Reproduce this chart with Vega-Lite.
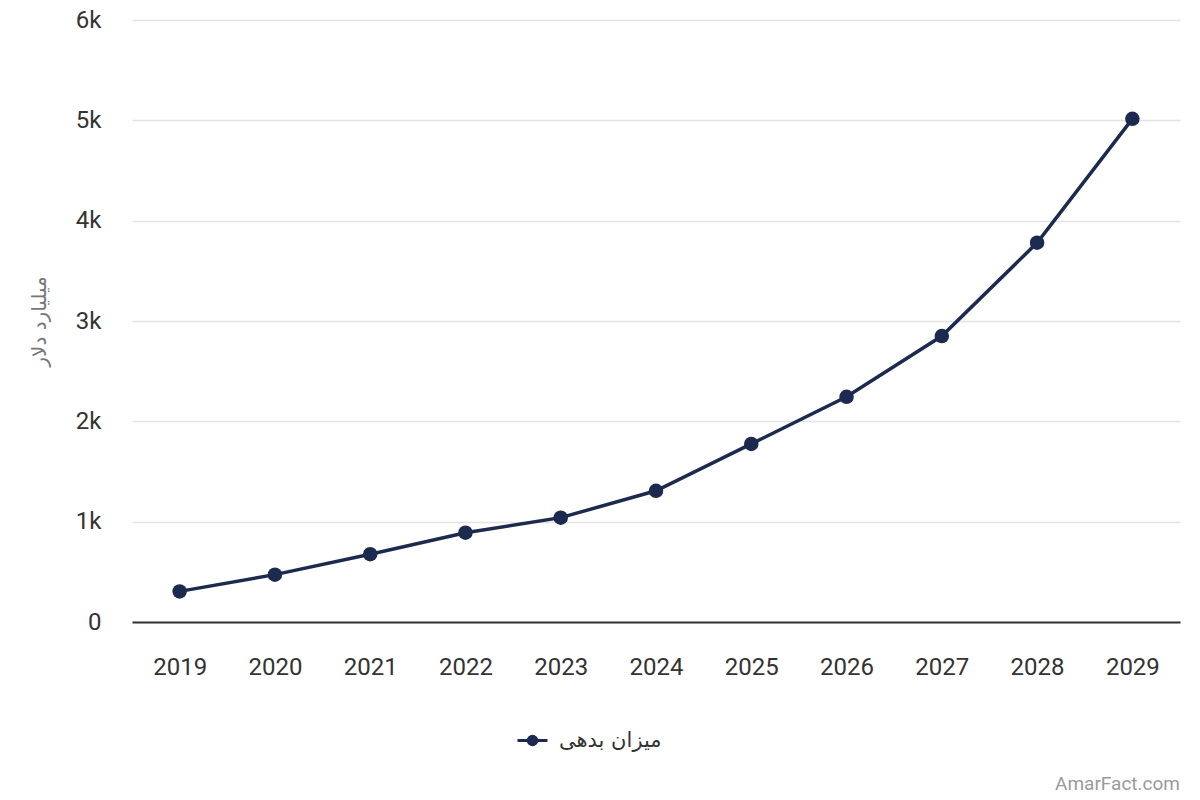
{
  "$schema": "https://vega.github.io/schema/vega-lite/v6.json",
  "width": 1048,
  "height": 602,
  "autosize": "none",
  "padding": {"left": 132, "top": 20, "right": 20, "bottom": 178},
  "background": "white",
  "config": {
    "view": {"stroke": null},
    "font": "Roboto"
  },
  "title": {
    "text": "AmarFact.com",
    "orient": "bottom",
    "anchor": "end",
    "fontSize": 19,
    "fontWeight": "normal",
    "color": "#9a9a9a",
    "font": "Roboto",
    "offset": 24
  },
  "data": {
    "values": [
      {"year": "2019", "value": 305, "series": "میزان بدهی"},
      {"year": "2020", "value": 472, "series": "میزان بدهی"},
      {"year": "2021", "value": 676, "series": "میزان بدهی"},
      {"year": "2022", "value": 890, "series": "میزان بدهی"},
      {"year": "2023", "value": 1040, "series": "میزان بدهی"},
      {"year": "2024", "value": 1308, "series": "میزان بدهی"},
      {"year": "2025", "value": 1775, "series": "میزان بدهی"},
      {"year": "2026", "value": 2245, "series": "میزان بدهی"},
      {"year": "2027", "value": 2850, "series": "میزان بدهی"},
      {"year": "2028", "value": 3780, "series": "میزان بدهی"},
      {"year": "2029", "value": 5015, "series": "میزان بدهی"}
    ]
  },
  "mark": {"type": "line", "strokeWidth": 3.5, "point": {"size": 210, "filled": true, "opacity": 1}},
  "encoding": {
    "x": {
      "field": "year",
      "type": "ordinal",
      "scale": {"padding": 0.5},
      "axis": {
        "title": null,
        "labelAngle": 0,
        "labelFontSize": 24,
        "labelColor": "#333333",
        "labelPadding": 33,
        "ticks": false,
        "domainColor": "#333333",
        "domainWidth": 2,
        "grid": false
      }
    },
    "y": {
      "field": "value",
      "type": "quantitative",
      "scale": {"domain": [0, 6000], "nice": false},
      "axis": {
        "title": "میلیارد دلار",
        "titleFont": "DejaVu Sans",
        "titleFontSize": 20,
        "titleFontWeight": "normal",
        "titleColor": "#777777",
        "titlePadding": 26,
        "values": [0, 1000, 2000, 3000, 4000, 5000, 6000],
        "labelExpr": "datum.value == 0 ? '0' : (datum.value / 1000) + 'k'",
        "labelFontSize": 24,
        "labelColor": "#333333",
        "labelPadding": 31,
        "ticks": false,
        "domain": false,
        "gridColor": "#e3e3e3",
        "gridWidth": 1.5
      }
    },
    "color": {
      "field": "series",
      "type": "nominal",
      "scale": {"range": ["#1b2a4e"]},
      "legend": {
        "title": null,
        "orient": "none",
        "legendX": 384,
        "legendY": 704,
        "labelFont": "DejaVu Sans",
        "labelFontSize": 21,
        "labelColor": "#333333",
        "symbolType": "M-1,0L-0.28,0M-0.28,0A0.28,0.28 0 1,1 0.28,0A0.28,0.28 0 1,1 -0.28,0ZM0.28,0L1,0",
        "symbolSize": 900,
        "symbolStrokeWidth": 3,
        "symbolFillColor": "#1b2a4e",
        "symbolStrokeColor": "#1b2a4e",
        "labelOffset": 10
      }
    }
  }
}
